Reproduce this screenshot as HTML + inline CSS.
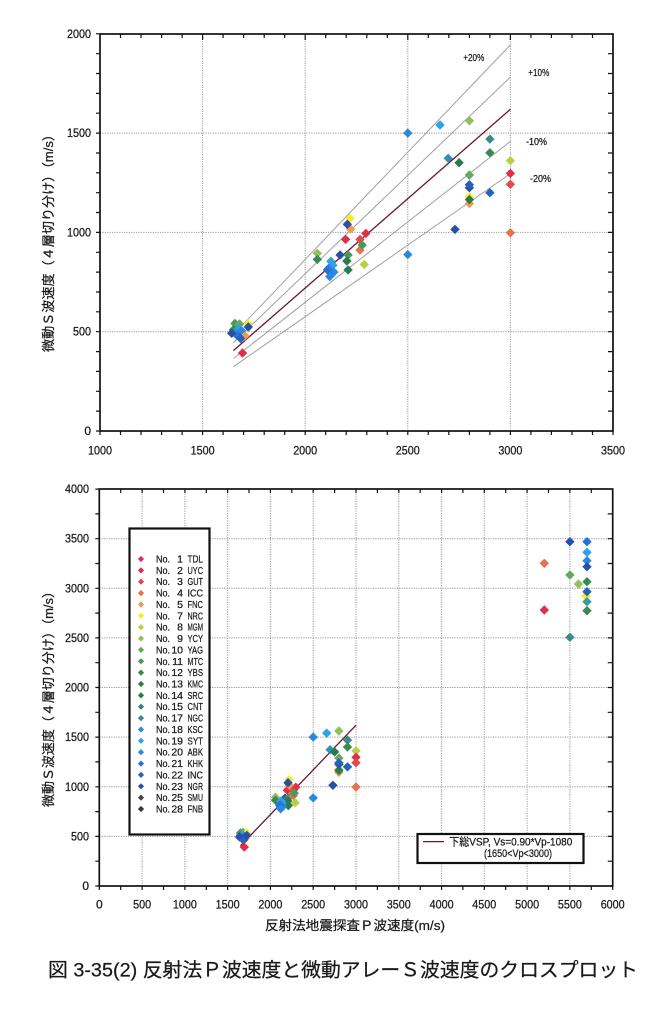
<!DOCTYPE html>
<html><head><meta charset="utf-8"><style>
html,body{margin:0;padding:0;background:#fff;}
svg{display:block;}
text{font-family:"Liberation Sans","Noto Sans CJK JP",sans-serif;fill:#1a1a1a;stroke:#1a1a1a;stroke-width:0.25;}
.jp{font-family:"Liberation Sans","Noto Sans CJK JP",sans-serif;}
</style></head><body>
<svg width="658" height="1012" viewBox="0 0 658 1012" xmlns="http://www.w3.org/2000/svg">
<defs>
<path id="d" d="M0,-4.7L4.7,0L0,4.7L-4.7,0Z"/>
<path id="s" d="M0,-3.1L3.1,0L0,3.1L-3.1,0Z"/>
</defs>
<rect width="658" height="1012" fill="#fff"/>

<!-- ================= TOP CHART ================= -->
<g stroke="#9a9a9a" stroke-width="1" stroke-dasharray="1.2,1.2" fill="none">
<path d="M202.6,34V431M305.2,34V431M407.8,34V431M510.4,34V431M100,331.7H613M100,232.4H613M100,133.1H613"/>
</g>
<g stroke="#a0a0a0" stroke-width="1" fill="none">
<path d="M233.4,334.5L510.4,44.9M233.4,342.5L510.4,77.1M233.4,358.6L510.4,141.4M233.4,366.7L510.4,173.6"/>
</g>
<path d="M233.4,350.6L510.4,109.3" stroke="#6a1830" stroke-width="1.3" fill="none"/>

<g font-size="10.5">
<text x="463.3" y="61" textLength="21" lengthAdjust="spacingAndGlyphs">+20%</text>
<text x="528.3" y="76" textLength="21" lengthAdjust="spacingAndGlyphs">+10%</text>
<text x="526" y="145" textLength="21" lengthAdjust="spacingAndGlyphs">-10%</text>
<text x="530" y="182" textLength="21" lengthAdjust="spacingAndGlyphs">-20%</text>
</g>

<!-- top points -->
<g>
<use href="#d" x="235" y="323.5" fill="#4a9a5a"/>
<use href="#d" x="239.5" y="324" fill="#68a860"/>
<use href="#d" x="248" y="324" fill="#f4ee20"/>
<use href="#d" x="233.4" y="329.7" fill="#3a8a50"/>
<use href="#d" x="238.5" y="328.7" fill="#30a0e8"/>
<use href="#d" x="241.6" y="330.7" fill="#2a88e0"/>
<use href="#d" x="235.4" y="333.7" fill="#2a88e0"/>
<use href="#d" x="245" y="336" fill="#f09a50"/>
<use href="#d" x="237.5" y="335.7" fill="#2a70d8"/>
<use href="#d" x="231.7" y="333.3" fill="#2850a8"/>
<use href="#d" x="240.6" y="338.5" fill="#2860c0"/>
<use href="#d" x="248.3" y="327" fill="#2850a8"/>
<use href="#d" x="242.5" y="353" fill="#e03048"/>

<use href="#d" x="317.3" y="253.3" fill="#90c060"/>
<use href="#d" x="317.3" y="259.4" fill="#3a8a50"/>
<use href="#d" x="340.1" y="255" fill="#2850a8"/>
<use href="#d" x="348.1" y="255" fill="#4a9a5a"/>
<use href="#d" x="346.9" y="261" fill="#2a7a50"/>
<use href="#d" x="345.6" y="239.4" fill="#e03048"/>
<use href="#d" x="360" y="239.4" fill="#e04a50"/>
<use href="#d" x="365.9" y="233.4" fill="#e03048"/>
<use href="#d" x="360" y="250.1" fill="#e8704a"/>
<use href="#d" x="362.2" y="245.1" fill="#4a9a5a"/>
<use href="#d" x="364.3" y="264.4" fill="#b8d048"/>
<use href="#d" x="348.1" y="269.9" fill="#2a7a50"/>
<use href="#d" x="349.9" y="218.3" fill="#f4ee20"/>
<use href="#d" x="350.5" y="229" fill="#f09a50"/>
<use href="#d" x="347.3" y="224.3" fill="#2850a8"/>
<use href="#d" x="330.9" y="261.2" fill="#30a0e8"/>
<use href="#d" x="332.9" y="265.2" fill="#30a0e8"/>
<use href="#d" x="328.8" y="268.1" fill="#2a88e0"/>
<use href="#d" x="333.9" y="272.1" fill="#2a88e0"/>
<use href="#d" x="327.4" y="269.9" fill="#2a70d8"/>
<use href="#d" x="329.8" y="276.5" fill="#2a88e0"/>

<use href="#d" x="407.8" y="133.1" fill="#2a88e0"/>
<use href="#d" x="440" y="125" fill="#30a0e8"/>
<use href="#d" x="469.4" y="120.8" fill="#90c060"/>
<use href="#d" x="489.9" y="139.1" fill="#3a8a8a"/>
<use href="#d" x="448.2" y="158.3" fill="#3090b8"/>
<use href="#d" x="459.1" y="162.7" fill="#2a7a50"/>
<use href="#d" x="489.9" y="152.8" fill="#3a8a50"/>
<use href="#d" x="510.4" y="160.7" fill="#b8d048"/>
<use href="#d" x="469.4" y="175" fill="#68a860"/>
<use href="#d" x="510.4" y="173.4" fill="#e03048"/>
<use href="#d" x="510.4" y="184.3" fill="#e04a50"/>
<use href="#d" x="489.9" y="192.7" fill="#2860c0"/>
<use href="#d" x="469.4" y="203.6" fill="#f09a50"/>
<use href="#d" x="469.4" y="196.7" fill="#f4ee20"/>
<use href="#d" x="469.4" y="199.6" fill="#2a7a50"/>
<use href="#d" x="469.4" y="187.7" fill="#2850a8"/>
<use href="#d" x="469.4" y="184.7" fill="#2860c0"/>
<use href="#d" x="455" y="229.4" fill="#2850a8"/>
<use href="#d" x="510.4" y="232.8" fill="#e8704a"/>
<use href="#d" x="407.8" y="254.6" fill="#2a88e0"/>
</g>

<!-- top frame and ticks -->
<rect x="100" y="34" width="513" height="397" fill="none" stroke="#111" stroke-width="1.7"/>
<g stroke="#111" stroke-width="1.2" fill="none">
<path d="M120.5,34v4M141,34v4M161.6,34v4M182.1,34v4M202.6,34v6M223.1,34v4M243.6,34v4M264.2,34v4M284.7,34v4M305.2,34v6M325.7,34v4M346.2,34v4M366.8,34v4M387.3,34v4M407.8,34v6M428.3,34v4M448.8,34v4M469.4,34v4M489.9,34v4M510.4,34v6M530.9,34v4M551.4,34v4M572,34v4M592.5,34v4"/>
<path d="M100,431v4M120.5,431v4M141,431v4M161.6,431v4M182.1,431v4M202.6,431v4M223.1,431v4M243.6,431v4M264.2,431v4M284.7,431v4M305.2,431v4M325.7,431v4M346.2,431v4M366.8,431v4M387.3,431v4M407.8,431v4M428.3,431v4M448.8,431v4M469.4,431v4M489.9,431v4M510.4,431v4M530.9,431v4M551.4,431v4M572,431v4M592.5,431v4M613,431v4"/>
<path d="M100,431h-4M100,411.1h-4M100,391.3h-4M100,371.4h-4M100,351.6h-4M100,331.7h-4M100,311.8h-4M100,292h-4M100,272.1h-4M100,252.3h-4M100,232.4h-4M100,212.5h-4M100,192.7h-4M100,172.8h-4M100,153h-4M100,133.1h-4M100,113.2h-4M100,93.4h-4M100,73.5h-4M100,53.7h-4M100,33.8h-4"/>
<path d="M613,411.1h-5M613,391.3h-5M613,371.4h-5M613,351.6h-5M613,331.7h-5M613,311.8h-5M613,292h-5M613,272.1h-5M613,252.3h-5M613,232.4h-5M613,212.5h-5M613,192.7h-5M613,172.8h-5M613,153h-5M613,133.1h-5M613,113.2h-5M613,93.4h-5M613,73.5h-5M613,53.7h-5"/>
</g>
<g font-size="12" text-anchor="middle">
<text x="100" y="454.5" textLength="24" lengthAdjust="spacingAndGlyphs">1000</text>
<text x="202.6" y="454.5" textLength="24" lengthAdjust="spacingAndGlyphs">1500</text>
<text x="305.2" y="454.5" textLength="24" lengthAdjust="spacingAndGlyphs">2000</text>
<text x="407.8" y="454.5" textLength="24" lengthAdjust="spacingAndGlyphs">2500</text>
<text x="510.4" y="454.5" textLength="24" lengthAdjust="spacingAndGlyphs">3000</text>
<text x="613" y="454.5" textLength="24" lengthAdjust="spacingAndGlyphs">3500</text>
</g>
<g font-size="12" text-anchor="end">
<text x="91" y="435">0</text>
<text x="91" y="335.7" textLength="18" lengthAdjust="spacingAndGlyphs">500</text>
<text x="91" y="236.4" textLength="24" lengthAdjust="spacingAndGlyphs">1000</text>
<text x="91" y="137.1" textLength="24" lengthAdjust="spacingAndGlyphs">1500</text>
<text x="91" y="37.8" textLength="24" lengthAdjust="spacingAndGlyphs">2000</text>
</g>
<text class="jp" transform="translate(53,240) rotate(-90)" font-size="13" text-anchor="middle" textLength="224" lengthAdjust="spacingAndGlyphs">微動Ｓ波速度（４層切り分け）（m/s）</text>

<!-- ================= BOTTOM CHART ================= -->
<g stroke="#9a9a9a" stroke-width="1" stroke-dasharray="1.2,1.2" fill="none">
<path d="M142.1,489V886M184.9,489V886M227.6,489V886M270.4,489V886M313.2,489V886M356,489V886M398.8,489V886M441.6,489V886M484.3,489V886M527.1,489V886M569.9,489V886"/>
<path d="M99.3,836.4H612.7M99.3,786.8H612.7M99.3,737.1H612.7M99.3,687.5H612.7M99.3,637.9H612.7M99.3,588.3H612.7M99.3,538.7H612.7"/>
</g>
<path d="M240.5,845.8L356,725.2" stroke="#6a1830" stroke-width="1.3" fill="none"/>

<g>
<use href="#d" x="240.5" y="833" fill="#4a9a5a"/>
<use href="#d" x="243" y="832.5" fill="#68a860"/>
<use href="#d" x="246.5" y="833" fill="#f4ee20"/>
<use href="#d" x="240.5" y="835.4" fill="#3a8a50"/>
<use href="#d" x="242.6" y="834.9" fill="#30a0e8"/>
<use href="#d" x="243.9" y="835.9" fill="#2a88e0"/>
<use href="#d" x="241.3" y="837.4" fill="#2a88e0"/>
<use href="#d" x="245.2" y="838.6" fill="#f09a50"/>
<use href="#d" x="242.2" y="838.4" fill="#2a70d8"/>
<use href="#d" x="239.5" y="837" fill="#2850a8"/>
<use href="#d" x="243.5" y="840.1" fill="#2860c0"/>
<use href="#d" x="246.9" y="835.4" fill="#2850a8"/>
<use href="#d" x="244.3" y="847.1" fill="#e03048"/>

<use href="#d" x="275.5" y="797.2" fill="#90c060"/>
<use href="#d" x="275.5" y="800.2" fill="#3a8a50"/>
<use href="#d" x="285" y="798.1" fill="#2850a8"/>
<use href="#d" x="288.3" y="798.1" fill="#4a9a5a"/>
<use href="#d" x="287.8" y="801" fill="#2a7a50"/>
<use href="#d" x="287.3" y="790.2" fill="#e03048"/>
<use href="#d" x="293.3" y="790.2" fill="#e04a50"/>
<use href="#d" x="295.8" y="787.2" fill="#e03048"/>
<use href="#d" x="293.3" y="795.6" fill="#e8704a"/>
<use href="#d" x="294.2" y="793.1" fill="#4a9a5a"/>
<use href="#d" x="295.1" y="802.7" fill="#b8d048"/>
<use href="#d" x="288.3" y="805.5" fill="#2a7a50"/>
<use href="#d" x="289.1" y="779.7" fill="#f4ee20"/>
<use href="#d" x="289.3" y="785.1" fill="#f09a50"/>
<use href="#d" x="288" y="782.7" fill="#2850a8"/>
<use href="#d" x="281.1" y="801.1" fill="#30a0e8"/>
<use href="#d" x="282" y="803.1" fill="#30a0e8"/>
<use href="#d" x="280.3" y="804.6" fill="#2a88e0"/>
<use href="#d" x="282.4" y="806.6" fill="#2a88e0"/>
<use href="#d" x="279.7" y="805.5" fill="#2a70d8"/>
<use href="#d" x="280.7" y="808.8" fill="#2a88e0"/>

<use href="#d" x="313.2" y="737.1" fill="#2a88e0"/>
<use href="#d" x="326.7" y="733.1" fill="#30a0e8"/>
<use href="#d" x="338.9" y="731" fill="#90c060"/>
<use href="#d" x="347.5" y="740.1" fill="#3a8a8a"/>
<use href="#d" x="330.1" y="749.7" fill="#3090b8"/>
<use href="#d" x="334.6" y="751.9" fill="#2a7a50"/>
<use href="#d" x="347.5" y="747" fill="#3a8a50"/>
<use href="#d" x="356" y="750.9" fill="#b8d048"/>
<use href="#d" x="338.9" y="758.1" fill="#68a860"/>
<use href="#d" x="356" y="757.3" fill="#e03048"/>
<use href="#d" x="356" y="762.7" fill="#e04a50"/>
<use href="#d" x="347.5" y="766.9" fill="#2860c0"/>
<use href="#d" x="338.9" y="772.4" fill="#f09a50"/>
<use href="#d" x="338.9" y="768.9" fill="#f4ee20"/>
<use href="#d" x="338.9" y="770.4" fill="#2a7a50"/>
<use href="#d" x="338.9" y="764.4" fill="#2850a8"/>
<use href="#d" x="338.9" y="762.9" fill="#2860c0"/>
<use href="#d" x="332.9" y="785.3" fill="#2850a8"/>
<use href="#d" x="356" y="787" fill="#e8704a"/>
<use href="#d" x="313.2" y="797.9" fill="#2a88e0"/>

<use href="#d" x="569.9" y="541.7" fill="#2850a8"/>
<use href="#d" x="587" y="541.7" fill="#2a70d8"/>
<use href="#d" x="587" y="552.3" fill="#30a0e8"/>
<use href="#d" x="587" y="560.7" fill="#2a88e0"/>
<use href="#d" x="587" y="566.7" fill="#2850a8"/>
<use href="#d" x="544.3" y="563.3" fill="#e8704a"/>
<use href="#d" x="569.9" y="575" fill="#68a860"/>
<use href="#d" x="578.5" y="584" fill="#90c060"/>
<use href="#d" x="587" y="581.7" fill="#3a8a50"/>
<use href="#d" x="586" y="596" fill="#f4ee20"/>
<use href="#d" x="587" y="591.7" fill="#2860c0"/>
<use href="#d" x="587" y="601.7" fill="#3a9aa0"/>
<use href="#d" x="587" y="610.7" fill="#3a8a50"/>
<use href="#d" x="544.3" y="610" fill="#e03048"/>
<use href="#d" x="569.9" y="637.3" fill="#3a8a8a"/>
</g>

<!-- bottom frame and ticks -->
<rect x="99.3" y="489" width="513.4" height="397" fill="none" stroke="#111" stroke-width="1.7"/>
<g stroke="#111" stroke-width="1.2" fill="none">
<path d="M120.7,489v4M142.1,489v4M163.5,489v4M184.9,489v4M206.3,489v4M227.6,489v4M249,489v4M270.4,489v4M291.8,489v4M313.2,489v4M334.6,489v4M356,489v4M377.4,489v4M398.8,489v4M420.2,489v4M441.6,489v4M462.9,489v4M484.3,489v4M505.7,489v4M527.1,489v4M548.5,489v4M569.9,489v4M591.3,489v4"/>
<path d="M99.3,886v4M120.7,886v4M142.1,886v4M163.5,886v4M184.9,886v4M206.3,886v4M227.6,886v4M249,886v4M270.4,886v4M291.8,886v4M313.2,886v4M334.6,886v4M356,886v4M377.4,886v4M398.8,886v4M420.2,886v4M441.6,886v4M462.9,886v4M484.3,886v4M505.7,886v4M527.1,886v4M548.5,886v4M569.9,886v4M591.3,886v4M612.7,886v4"/>
<path d="M99.3,886h-4M99.3,861.2h-4M99.3,836.4h-4M99.3,811.6h-4M99.3,786.8h-4M99.3,761.9h-4M99.3,737.1h-4M99.3,712.3h-4M99.3,687.5h-4M99.3,662.7h-4M99.3,637.9h-4M99.3,613.1h-4M99.3,588.3h-4M99.3,563.5h-4M99.3,538.7h-4M99.3,513.9h-4M99.3,489.1h-4"/>
<path d="M612.7,861.2h-5M612.7,836.4h-5M612.7,811.6h-5M612.7,786.8h-5M612.7,761.9h-5M612.7,737.1h-5M612.7,712.3h-5M612.7,687.5h-5M612.7,662.7h-5M612.7,637.9h-5M612.7,613.1h-5M612.7,588.3h-5M612.7,563.5h-5M612.7,538.7h-5M612.7,513.9h-5"/>
</g>
<g font-size="12" text-anchor="middle">
<text x="99.3" y="908.5">0</text>
<text x="142.1" y="908.5" textLength="18" lengthAdjust="spacingAndGlyphs">500</text>
<text x="184.9" y="908.5" textLength="24" lengthAdjust="spacingAndGlyphs">1000</text>
<text x="227.6" y="908.5" textLength="24" lengthAdjust="spacingAndGlyphs">1500</text>
<text x="270.4" y="908.5" textLength="24" lengthAdjust="spacingAndGlyphs">2000</text>
<text x="313.2" y="908.5" textLength="24" lengthAdjust="spacingAndGlyphs">2500</text>
<text x="356" y="908.5" textLength="24" lengthAdjust="spacingAndGlyphs">3000</text>
<text x="398.8" y="908.5" textLength="24" lengthAdjust="spacingAndGlyphs">3500</text>
<text x="441.6" y="908.5" textLength="24" lengthAdjust="spacingAndGlyphs">4000</text>
<text x="484.3" y="908.5" textLength="24" lengthAdjust="spacingAndGlyphs">4500</text>
<text x="527.1" y="908.5" textLength="24" lengthAdjust="spacingAndGlyphs">5000</text>
<text x="569.9" y="908.5" textLength="24" lengthAdjust="spacingAndGlyphs">5500</text>
<text x="612.7" y="908.5" textLength="24" lengthAdjust="spacingAndGlyphs">6000</text>
</g>
<g font-size="12" text-anchor="end">
<text x="89" y="890">0</text>
<text x="89" y="840.4" textLength="18" lengthAdjust="spacingAndGlyphs">500</text>
<text x="89" y="790.8" textLength="24" lengthAdjust="spacingAndGlyphs">1000</text>
<text x="89" y="741.1" textLength="24" lengthAdjust="spacingAndGlyphs">1500</text>
<text x="89" y="691.5" textLength="24" lengthAdjust="spacingAndGlyphs">2000</text>
<text x="89" y="641.9" textLength="24" lengthAdjust="spacingAndGlyphs">2500</text>
<text x="89" y="592.3" textLength="24" lengthAdjust="spacingAndGlyphs">3000</text>
<text x="89" y="542.7" textLength="24" lengthAdjust="spacingAndGlyphs">3500</text>
<text x="89" y="493.1" textLength="24" lengthAdjust="spacingAndGlyphs">4000</text>
</g>
<text class="jp" transform="translate(53,696) rotate(-90)" font-size="13" text-anchor="middle" textLength="222" lengthAdjust="spacingAndGlyphs">微動Ｓ波速度（４層切り分け）（m/s）</text>
<text class="jp" x="265" y="930" font-size="13" textLength="180" lengthAdjust="spacingAndGlyphs">反射法地震探査Ｐ波速度(m/s)</text>

<!-- legend 1 -->
<rect x="129.5" y="528.5" width="80" height="306" fill="#fff" stroke="#111" stroke-width="2.2"/>
<g>
<use href="#s" x="141" y="559" fill="#d8305a"/>
<use href="#s" x="141" y="570.4" fill="#e03048"/>
<use href="#s" x="141" y="581.7" fill="#e04a50"/>
<use href="#s" x="141" y="593.1" fill="#e8704a"/>
<use href="#s" x="141" y="604.5" fill="#f09a50"/>
<use href="#s" x="141" y="615.8" fill="#f4ee20"/>
<use href="#s" x="141" y="627.2" fill="#b8d048"/>
<use href="#s" x="141" y="638.5" fill="#90c060"/>
<use href="#s" x="141" y="649.9" fill="#68a860"/>
<use href="#s" x="141" y="661.3" fill="#4a9a5a"/>
<use href="#s" x="141" y="672.6" fill="#3a8a50"/>
<use href="#s" x="141" y="684" fill="#2a8048"/>
<use href="#s" x="141" y="695.4" fill="#2a7a50"/>
<use href="#s" x="141" y="706.7" fill="#2a8a6a"/>
<use href="#s" x="141" y="718.1" fill="#3a8a8a"/>
<use href="#s" x="141" y="729.5" fill="#3090b8"/>
<use href="#s" x="141" y="740.8" fill="#30a0e8"/>
<use href="#s" x="141" y="752.2" fill="#2a88e0"/>
<use href="#s" x="141" y="763.6" fill="#2a70d8"/>
<use href="#s" x="141" y="774.9" fill="#2860c0"/>
<use href="#s" x="141" y="786.3" fill="#2850a8"/>
<use href="#s" x="141" y="797.6" fill="#404848"/>
<use href="#s" x="141" y="809" fill="#383838"/>
</g>
<g font-size="10.5">
<text x="156" y="562.5" textLength="14" lengthAdjust="spacingAndGlyphs">No.</text>
<text x="156" y="573.9" textLength="14" lengthAdjust="spacingAndGlyphs">No.</text>
<text x="156" y="585.2" textLength="14" lengthAdjust="spacingAndGlyphs">No.</text>
<text x="156" y="596.6" textLength="14" lengthAdjust="spacingAndGlyphs">No.</text>
<text x="156" y="608" textLength="14" lengthAdjust="spacingAndGlyphs">No.</text>
<text x="156" y="619.3" textLength="14" lengthAdjust="spacingAndGlyphs">No.</text>
<text x="156" y="630.7" textLength="14" lengthAdjust="spacingAndGlyphs">No.</text>
<text x="156" y="642" textLength="14" lengthAdjust="spacingAndGlyphs">No.</text>
<text x="156" y="653.4" textLength="14" lengthAdjust="spacingAndGlyphs">No.</text>
<text x="156" y="664.8" textLength="14" lengthAdjust="spacingAndGlyphs">No.</text>
<text x="156" y="676.1" textLength="14" lengthAdjust="spacingAndGlyphs">No.</text>
<text x="156" y="687.5" textLength="14" lengthAdjust="spacingAndGlyphs">No.</text>
<text x="156" y="698.9" textLength="14" lengthAdjust="spacingAndGlyphs">No.</text>
<text x="156" y="710.2" textLength="14" lengthAdjust="spacingAndGlyphs">No.</text>
<text x="156" y="721.6" textLength="14" lengthAdjust="spacingAndGlyphs">No.</text>
<text x="156" y="733" textLength="14" lengthAdjust="spacingAndGlyphs">No.</text>
<text x="156" y="744.3" textLength="14" lengthAdjust="spacingAndGlyphs">No.</text>
<text x="156" y="755.7" textLength="14" lengthAdjust="spacingAndGlyphs">No.</text>
<text x="156" y="767.1" textLength="14" lengthAdjust="spacingAndGlyphs">No.</text>
<text x="156" y="778.4" textLength="14" lengthAdjust="spacingAndGlyphs">No.</text>
<text x="156" y="789.8" textLength="14" lengthAdjust="spacingAndGlyphs">No.</text>
<text x="156" y="801.1" textLength="14" lengthAdjust="spacingAndGlyphs">No.</text>
<text x="156" y="812.5" textLength="14" lengthAdjust="spacingAndGlyphs">No.</text>
</g>
<g font-size="10.5" text-anchor="end">
<text x="183" y="562.5">1</text>
<text x="183" y="573.9">2</text>
<text x="183" y="585.2">3</text>
<text x="183" y="596.6">4</text>
<text x="183" y="608">5</text>
<text x="183" y="619.3">7</text>
<text x="183" y="630.7">8</text>
<text x="183" y="642">9</text>
<text x="183" y="653.4">10</text>
<text x="183" y="664.8">11</text>
<text x="183" y="676.1">12</text>
<text x="183" y="687.5">13</text>
<text x="183" y="698.9">14</text>
<text x="183" y="710.2">15</text>
<text x="183" y="721.6">17</text>
<text x="183" y="733">18</text>
<text x="183" y="744.3">19</text>
<text x="183" y="755.7">20</text>
<text x="183" y="767.1">21</text>
<text x="183" y="778.4">22</text>
<text x="183" y="789.8">23</text>
<text x="183" y="801.1">25</text>
<text x="183" y="812.5">28</text>
</g>
<g font-size="10.5">
<text x="187.5" y="562.5" textLength="15.5" lengthAdjust="spacingAndGlyphs">TDL</text>
<text x="187.5" y="573.9" textLength="15.5" lengthAdjust="spacingAndGlyphs">UYC</text>
<text x="187.5" y="585.2" textLength="15.5" lengthAdjust="spacingAndGlyphs">GUT</text>
<text x="187.5" y="596.6" textLength="15.5" lengthAdjust="spacingAndGlyphs">ICC</text>
<text x="187.5" y="608" textLength="15.5" lengthAdjust="spacingAndGlyphs">FNC</text>
<text x="187.5" y="619.3" textLength="15.5" lengthAdjust="spacingAndGlyphs">NRC</text>
<text x="187.5" y="630.7" textLength="15.5" lengthAdjust="spacingAndGlyphs">MGM</text>
<text x="187.5" y="642" textLength="15.5" lengthAdjust="spacingAndGlyphs">YCY</text>
<text x="187.5" y="653.4" textLength="15.5" lengthAdjust="spacingAndGlyphs">YAG</text>
<text x="187.5" y="664.8" textLength="15.5" lengthAdjust="spacingAndGlyphs">MTC</text>
<text x="187.5" y="676.1" textLength="15.5" lengthAdjust="spacingAndGlyphs">YBS</text>
<text x="187.5" y="687.5" textLength="15.5" lengthAdjust="spacingAndGlyphs">KMC</text>
<text x="187.5" y="698.9" textLength="15.5" lengthAdjust="spacingAndGlyphs">SRC</text>
<text x="187.5" y="710.2" textLength="15.5" lengthAdjust="spacingAndGlyphs">CNT</text>
<text x="187.5" y="721.6" textLength="15.5" lengthAdjust="spacingAndGlyphs">NGC</text>
<text x="187.5" y="733" textLength="15.5" lengthAdjust="spacingAndGlyphs">KSC</text>
<text x="187.5" y="744.3" textLength="15.5" lengthAdjust="spacingAndGlyphs">SYT</text>
<text x="187.5" y="755.7" textLength="15.5" lengthAdjust="spacingAndGlyphs">ABK</text>
<text x="187.5" y="767.1" textLength="15.5" lengthAdjust="spacingAndGlyphs">KHK</text>
<text x="187.5" y="778.4" textLength="15.5" lengthAdjust="spacingAndGlyphs">INC</text>
<text x="187.5" y="789.8" textLength="15.5" lengthAdjust="spacingAndGlyphs">NGR</text>
<text x="187.5" y="801.1" textLength="15.5" lengthAdjust="spacingAndGlyphs">SMU</text>
<text x="187.5" y="812.5" textLength="15.5" lengthAdjust="spacingAndGlyphs">FNB</text>
</g>

<!-- legend 2 -->
<rect x="417.5" y="834" width="166" height="29" fill="#fff" stroke="#111" stroke-width="2.2"/>
<path d="M423,841.6H444" stroke="#6a1830" stroke-width="1.3"/>
<text class="jp" x="449.3" y="845.5" font-size="11" textLength="123" lengthAdjust="spacingAndGlyphs">下総VSP, Vs=0.90*Vp-1080</text>
<text x="484" y="857" font-size="11" textLength="68" lengthAdjust="spacingAndGlyphs">(1650&lt;Vp&lt;3000)</text>

<!-- caption -->
<text class="jp" x="48" y="976.5" font-size="19.5" textLength="590" lengthAdjust="spacingAndGlyphs">図 3-35(2) 反射法Ｐ波速度と微動アレーＳ波速度のクロスプロット</text>
</svg>
</body></html>
